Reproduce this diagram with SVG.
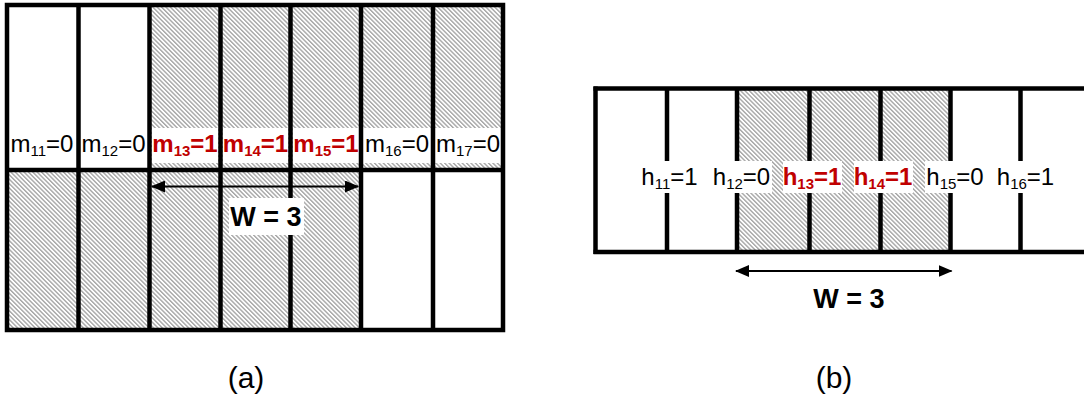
<svg xmlns="http://www.w3.org/2000/svg" width="1084" height="400" viewBox="0 0 1084 400">
<defs>
<pattern id="hatch" patternUnits="userSpaceOnUse" width="3.1" height="3.1" patternTransform="rotate(-45)">
<rect width="3.1" height="3.1" fill="#ffffff"/>
<rect width="1.4" height="3.1" fill="#a6a6a6"/>
</pattern>
<marker id="ah" viewBox="0 0 14 12" refX="13" refY="6" markerWidth="14" markerHeight="12" markerUnits="userSpaceOnUse" orient="auto-start-reverse">
<path d="M0,0 L14,6 L0,12 Z" fill="#000"/>
</marker>
</defs>
<style>
.ln{stroke:#000;stroke-width:4.5;fill:none}
.t{font-family:"Liberation Sans",Arial,sans-serif;font-size:24px;fill:#000;text-anchor:middle}
.r{font-weight:bold;fill:#c00000}
.s{font-size:15px}
.w{font-family:"Liberation Sans",Arial,sans-serif;font-size:27px;font-weight:bold;fill:#000;text-anchor:middle}
.cap{font-family:"Liberation Sans",Arial,sans-serif;font-size:30px;fill:#000;text-anchor:middle}
.arr{stroke:#000;stroke-width:2;fill:none}
.box{fill:#fff}
</style>

<g id="panel-a">
<g id="a-fills">
<rect x="149.5" y="5" width="353.5" height="165" fill="url(#hatch)"/>
<rect x="7" y="170" width="354" height="160" fill="url(#hatch)"/>
</g>
<g id="a-label-boxes">
<rect class="box" x="9" y="128" width="67" height="35"/>
<rect class="box" x="80" y="128" width="67" height="35"/>
<rect class="box" x="152" y="128" width="66" height="35"/>
<rect class="box" x="223" y="128" width="65" height="35"/>
<rect class="box" x="293" y="128" width="66" height="35"/>
<rect class="box" x="363" y="128" width="68" height="35"/>
<rect class="box" x="435" y="128" width="66" height="35"/>
</g>
<g id="a-grid">
<rect class="ln" x="7" y="5" width="496" height="325"/>
<line class="ln" x1="7" y1="170" x2="503" y2="170"/>
<line class="ln" x1="78.5" y1="5" x2="78.5" y2="330"/>
<line class="ln" x1="149.5" y1="5" x2="149.5" y2="330"/>
<line class="ln" x1="220.5" y1="5" x2="220.5" y2="330"/>
<line class="ln" x1="290.5" y1="5" x2="290.5" y2="330"/>
<line class="ln" x1="361" y1="5" x2="361" y2="330"/>
<line class="ln" x1="433" y1="5" x2="433" y2="330"/>
</g>
<g id="m11"><text class="t" x="42" y="152">m<tspan class="s" dy="4">11</tspan><tspan dy="-4">=0</tspan></text></g>
<g id="m12"><text class="t" x="113.5" y="152">m<tspan class="s" dy="4">12</tspan><tspan dy="-4">=0</tspan></text></g>
<g id="m13"><text class="t r" x="185" y="152">m<tspan class="s" dy="4">13</tspan><tspan dy="-4">=1</tspan></text></g>
<g id="m14"><text class="t r" x="255.5" y="152">m<tspan class="s" dy="4">14</tspan><tspan dy="-4">=1</tspan></text></g>
<g id="m15"><text class="t r" x="326" y="152">m<tspan class="s" dy="4">15</tspan><tspan dy="-4">=1</tspan></text></g>
<g id="m16"><text class="t" x="397" y="152">m<tspan class="s" dy="4">16</tspan><tspan dy="-4">=0</tspan></text></g>
<g id="m17"><text class="t" x="468" y="152">m<tspan class="s" dy="4">17</tspan><tspan dy="-4">=0</tspan></text></g>
<text class="cap" x="246" y="388">(a)</text>
</g>

<g id="panel-b">
<g id="b-fills">
<rect x="737" y="88.5" width="213.5" height="163.5" fill="url(#hatch)"/>
</g>
<g id="b-grid">
<line class="ln" x1="593.5" y1="88.5" x2="1084" y2="88.5"/>
<line class="ln" x1="593.5" y1="252" x2="1084" y2="252"/>
<line class="ln" x1="595.5" y1="86.5" x2="595.5" y2="254"/>
<line class="ln" x1="667" y1="88.5" x2="667" y2="252"/>
<line class="ln" x1="737" y1="88.5" x2="737" y2="252"/>
<line class="ln" x1="809.5" y1="88.5" x2="809.5" y2="252"/>
<line class="ln" x1="880.5" y1="88.5" x2="880.5" y2="252"/>
<line class="ln" x1="950.5" y1="88.5" x2="950.5" y2="252"/>
<line class="ln" x1="1020.5" y1="88.5" x2="1020.5" y2="252"/>
</g>
<g id="b-label-boxes">
<rect class="box" x="640" y="161" width="59" height="32"/>
<rect class="box" x="711" y="161" width="61" height="32"/>
<rect class="box" x="783" y="161" width="59" height="32"/>
<rect class="box" x="854" y="161" width="59" height="32"/>
<rect class="box" x="925" y="161" width="60" height="32"/>
<rect class="box" x="996" y="161" width="59" height="32"/>
</g>
<g id="h11"><text class="t" x="669.5" y="185">h<tspan class="s" dy="4">11</tspan><tspan dy="-4">=1</tspan></text></g>
<g id="h12"><text class="t" x="741.5" y="185">h<tspan class="s" dy="4">12</tspan><tspan dy="-4">=0</tspan></text></g>
<g id="h13"><text class="t r" x="812" y="185">h<tspan class="s" dy="4">13</tspan><tspan dy="-4">=1</tspan></text></g>
<g id="h14"><text class="t r" x="883" y="185">h<tspan class="s" dy="4">14</tspan><tspan dy="-4">=1</tspan></text></g>
<g id="h15"><text class="t" x="955" y="185">h<tspan class="s" dy="4">15</tspan><tspan dy="-4">=0</tspan></text></g>
<g id="h16"><text class="t" x="1025.5" y="185">h<tspan class="s" dy="4">16</tspan><tspan dy="-4">=1</tspan></text></g>
<text class="cap" x="834" y="388">(b)</text>
</g>

<g id="connectors">
<line class="arr" x1="152" y1="186.5" x2="358" y2="186.5" marker-start="url(#ah)" marker-end="url(#ah)"/>
<line class="arr" x1="736" y1="271" x2="951.5" y2="271" marker-start="url(#ah)" marker-end="url(#ah)"/>
</g>

<g id="w-a">
<rect class="box" x="229" y="198" width="75" height="37"/>
<text class="w" x="266" y="226">W = 3</text>
</g>
<g id="w-b">
<text class="w" x="849" y="308">W = 3</text>
</g>
</svg>
